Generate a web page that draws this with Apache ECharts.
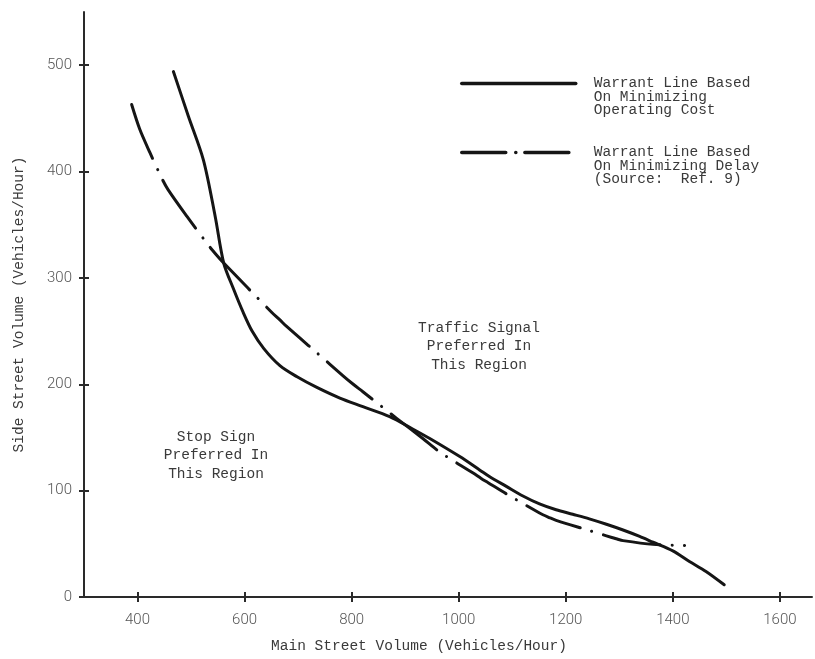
<!DOCTYPE html>
<html>
<head>
<meta charset="utf-8">
<script src="https://cdn.jsdelivr.net/npm/echarts@6/dist/echarts.min.js"></script>
<style>
html,body{margin:0;padding:0;background:#fff;}
#chart{width:815px;height:659px;}
</style>
</head>
<body>
<div id="chart"></div>
<script>
// Warrant line based on minimizing operating cost (solid)
const costMain = [467, 495, 523, 545, 561, 579, 597, 614, 636, 666, 698, 735, 778, 821, 871, 914, 946, 1002, 1039, 1058, 1089, 1120, 1151, 1182, 1213, 1244, 1276, 1307, 1338, 1363, 1400, 1431, 1462, 1496];
const costSide = [494, 452, 411, 358, 314, 290, 268, 250, 233.5, 217.5, 207, 197, 187, 179, 169.6, 158, 149, 132, 119.5, 113, 104, 95, 87.5, 82, 77.8, 73.5, 68.4, 63, 57, 51.5, 43.4, 33.4, 24, 11.5];
// Warrant line based on minimizing delay (dash-dot)
const delayMain = [389, 404, 423, 446, 457, 492, 526, 540, 561, 650, 666, 678, 734, 784, 803, 821, 884, 933, 964, 1027, 1042, 1055, 1089, 1151, 1170, 1182, 1244, 1276, 1296, 1307, 1363, 1422];
const delaySide = [463, 440, 418, 393, 383, 358, 335, 326, 314, 268, 260.5, 254.6, 230, 208, 200, 193, 168, 149, 136.5, 116.5, 111.5, 107.5, 97, 79, 74.5, 72, 62.5, 57.5, 54.5, 53, 49.5, 48.5];

const xTicks = [400, 600, 800, 1000, 1200, 1400, 1600];
const yTicks = [0, 100, 200, 300, 400, 500];

const seriesNames = [
  'Warrant Line Based\nOn Minimizing\nOperating Cost',
  'Warrant Line Based\nOn Minimizing Delay\n(Source:  Ref. 9)'
];
const xTitle = 'Main Street Volume (Vehicles/Hour)';
const yTitle = 'Side Street Volume (Vehicles/Hour)';
const regionSignal = 'Traffic Signal\nPreferred In\nThis Region';
const regionStop = 'Stop Sign\nPreferred In\nThis Region';

const MONO = '"Liberation Mono", "DejaVu Sans Mono", monospace';
const TXT = '#3a3a3a';
const LINE = '#151515';
const AX = '#2a2a2a';
const dashDot = [58, 12, 0.1, 12];

const zip = (a, b) => a.map((v, i) => [v, b[i]]);
const plain = v => String(v);

const chart = echarts.init(document.getElementById('chart'), null, {renderer: 'canvas'});

const baseX = {
  type: 'value', min: 300, max: 1660, position: 'bottom',
  splitLine: {show: false}
};
const baseY = {
  type: 'value', min: 0, max: 550, position: 'left',
  splitLine: {show: false}
};

chart.setOption({
  backgroundColor: '#fff',
  animation: false,
  grid: {left: 84, right: 3, top: 12, bottom: 60, containLabel: false},
  xAxis: [
    Object.assign({}, baseX, {
      name: xTitle, nameLocation: 'middle', nameGap: 42,
      nameTextStyle: {fontFamily: MONO, fontSize: 14.5, color: TXT, padding: [0, 58, 0, 0]},
      axisLine: {show: true, lineStyle: {color: AX, width: 2}},
      axisTick: {show: true, length: 5, lineStyle: {color: AX, width: 2}, customValues: xTicks},
      axisLabel: {show: true, margin: 16, formatter: plain, fontFamily: 'Roboto', fontWeight: 300, fontSize: 15, color: '#555', customValues: xTicks}
    }),
    Object.assign({}, baseX, {
      axisLine: {show: false},
      axisTick: {show: true, inside: true, length: 5, lineStyle: {color: AX, width: 2}, customValues: xTicks},
      axisLabel: {show: false}
    })
  ],
  yAxis: [
    Object.assign({}, baseY, {
      name: yTitle, nameLocation: 'middle', nameGap: 57,
      nameTextStyle: {fontFamily: MONO, fontSize: 14.5, color: TXT},
      axisLine: {show: true, lineStyle: {color: AX, width: 2}},
      axisTick: {show: true, length: 5, lineStyle: {color: AX, width: 2}, customValues: yTicks},
      axisLabel: {show: true, margin: 12, formatter: plain, fontFamily: 'Roboto', fontWeight: 300, fontSize: 15, color: '#555', customValues: yTicks}
    }),
    Object.assign({}, baseY, {
      axisLine: {show: false},
      axisTick: {show: true, inside: true, length: 5, lineStyle: {color: AX, width: 2}, customValues: yTicks},
      axisLabel: {show: false}
    })
  ],
  legend: {
    orient: 'vertical', left: 460, top: 49, padding: 0,
    itemWidth: 114, itemHeight: 14, itemGap: 0,
    selectedMode: false,
    formatter: name => '\n\n' + name,
    textStyle: {fontFamily: MONO, fontSize: 14.5, lineHeight: 13.5, color: TXT, padding: [0, 0, 0, 13]},
    data: [
      {name: seriesNames[0], itemStyle: {opacity: 0}, lineStyle: {width: 3.5, cap: 'round', opacity: 1}},
      {name: seriesNames[1], itemStyle: {opacity: 0}, lineStyle: {width: 3.5, cap: 'round', opacity: 1, type: [44, 10, 0.1, 9]}}
    ]
  },
  series: [
    {
      name: seriesNames[0], type: 'line', data: zip(costMain, costSide),
      smooth: 0.3, symbol: 'none', showSymbol: false,
      lineStyle: {color: LINE, width: 3, cap: 'round', join: 'round'},
      itemStyle: {color: LINE}
    },
    {
      name: seriesNames[1], type: 'line', data: zip(delayMain, delaySide),
      smooth: 0.3, symbol: 'none', showSymbol: false,
      lineStyle: {color: LINE, width: 3, cap: 'round', join: 'round', type: dashDot},
      itemStyle: {color: LINE}
    }
  ],
  graphic: [
    {type: 'text', x: 479, y: 346.5, silent: true,
     style: {text: regionSignal, fontFamily: MONO, fontSize: 14.5, lineHeight: 18.5, fill: TXT, align: 'center', verticalAlign: 'middle'}},
    {type: 'text', x: 216, y: 455.5, silent: true,
     style: {text: regionStop, fontFamily: MONO, fontSize: 14.5, lineHeight: 18.5, fill: TXT, align: 'center', verticalAlign: 'middle'}}
  ]
});
</script>
</body>
</html>
